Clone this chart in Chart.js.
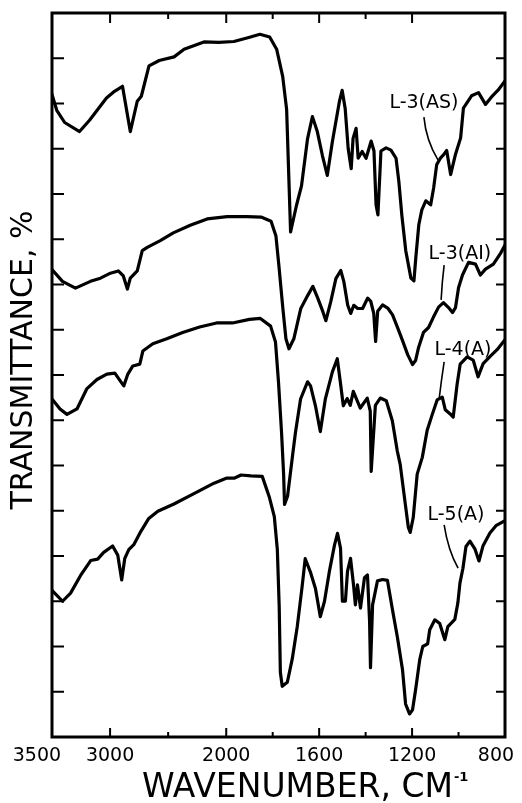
<!DOCTYPE html>
<html>
<head>
<meta charset="utf-8">
<script src="https://cdn.jsdelivr.net/npm/chart.js@4.4.1/dist/chart.umd.min.js"></script>
<style>
  html, body { margin: 0; padding: 0; background: #fff; }
  canvas { display: block; }
</style>
</head>
<body>
<canvas id="irChart" width="522" height="803"></canvas>
<script>
// Wavenumber ticks on the bottom axis (scale changes at 2000 cm-1)
const tickWn = [3500, 3000, 2500, 2000, 1800, 1600, 1400, 1200, 1000, 800];
const tickLabels = ['3500', '3000', '', '2000', '', '1600', '', '1200', '', '800'];

// L-3(AS)
const wnAS = [3500,3459,3391,3263,3177,3031,2962,2893,2826,2766,2731,2665,2577,2449,2363,2192,2064,1967,1903,1855,
  1813,1783,1757,1740,1732,1723,1698,1676,1650,1629,1608,1586,1565,1543,1513,1501,1488,1475,1462,1454,
  1441,1432,1415,1398,1376,1364,1355,1347,1334,1312,1291,1269,1257,1244,1227,1205,1192,1184,1171,1158,
  1141,1120,1107,1094,1077,1064,1051,1034,1013,991,979,944,914,884,859,829,800];
const tAS = [14.2,13.85,13.58,13.38,13.63,14.12,14.27,14.38,13.38,14.05,14.16,14.83,14.95,15.03,15.2,15.36,15.35,15.37,15.46,15.53,
  15.47,15.2,14.6,13.87,12.6,11.16,11.74,12.18,13.22,13.71,13.38,12.85,12.41,13.16,14.04,14.29,13.89,13.0,12.56,13.23,
  13.45,12.79,12.94,12.79,13.17,12.95,11.76,11.54,12.95,13.02,12.97,12.79,12.28,11.53,10.74,10.14,10.08,10.59,11.32,11.65,
  11.85,11.76,12.14,12.65,12.8,12.87,12.96,12.43,12.88,13.24,13.9,14.17,14.24,13.98,14.14,14.3,14.5];

// L-3(AI)
const wnAI = [3500,3410,3298,3169,3083,2997,2929,2886,2851,2826,2766,2723,2680,2568,2456,2310,2164,1996,1910,1850,
  1807,1786,1773,1756,1743,1730,1709,1679,1649,1627,1606,1584,1571,1550,1528,1507,1494,1477,1464,1451,
  1434,1413,1391,1378,1365,1357,1348,1327,1305,1284,1262,1241,1219,1198,1185,1172,1151,1129,1108,1086,
  1065,1043,1026,1013,1000,983,957,927,906,884,850,820,800];
const tAI = [10.33,10.07,9.92,10.07,10.14,10.25,10.3,10.19,9.9,10.14,10.3,10.75,10.82,10.97,11.14,11.31,11.45,11.5,11.5,11.49,
  11.4,11.07,10.4,9.46,8.8,8.58,8.8,9.47,9.76,9.96,9.7,9.4,9.2,9.62,10.13,10.31,10.07,9.54,9.36,9.54,
  9.47,9.47,9.7,9.63,9.36,8.74,9.41,9.55,9.48,9.33,9.04,8.76,8.45,8.23,8.32,8.61,8.94,9.05,9.28,9.5,
  9.6,9.49,9.38,9.49,9.93,10.21,10.49,10.45,10.21,10.34,10.45,10.68,10.87];

// L-4(A)
const wnL4 = [3500,3431,3371,3285,3199,3113,3028,2959,2899,2882,2847,2804,2744,2718,2632,2512,2375,2229,2083,1973,
  1900,1853,1809,1788,1775,1762,1753,1749,1736,1715,1702,1680,1650,1637,1616,1595,1573,1543,1522,1509,
  1496,1479,1466,1453,1423,1393,1380,1376,1367,1358,1337,1311,1285,1264,1251,1229,1216,1208,1195,1178,
  1156,1135,1113,1092,1070,1057,1036,1023,1006,993,963,937,916,894,864,834,800];
const tL4 = [7.47,7.25,7.13,7.25,7.7,7.9,8.02,8.04,7.82,7.76,8.02,8.2,8.24,8.53,8.69,8.8,8.94,9.06,9.15,9.15,
  9.23,9.25,9.08,8.73,7.84,6.74,5.81,5.14,5.32,6.2,6.73,7.47,7.85,7.76,7.32,6.75,7.48,8.07,8.36,7.85,
  7.32,7.48,7.33,7.64,7.27,7.49,7.2,5.87,6.6,7.33,7.49,7.43,6.99,6.33,6.02,5.14,4.63,4.52,4.85,5.81,
  6.18,6.78,7.13,7.45,7.51,7.23,7.14,7.07,7.8,8.24,8.4,8.33,7.96,8.25,8.41,8.56,8.78];

// L-5(A)
const wnL5 = [3500,3409,3340,3254,3167,3107,3055,2978,2934,2900,2874,2839,2796,2736,2667,2589,2450,2278,2105,2000,
  1966,1936,1893,1845,1815,1793,1780,1772,1767,1759,1737,1716,1694,1673,1660,1638,1616,1595,1577,1556,
  1534,1521,1508,1500,1487,1478,1465,1452,1444,1435,1422,1405,1392,1383,1379,1370,1349,1327,1306,1284,
  1263,1241,1228,1211,1198,1185,1167,1154,1133,1124,1102,1081,1059,1046,1016,1003,994,981,968,951,
  929,912,895,865,839,800];
const tL5 = [3.24,3.0,3.18,3.57,3.9,3.93,4.08,4.22,4.02,3.47,3.94,4.14,4.25,4.54,4.83,4.99,5.15,5.38,5.61,5.72,
  5.72,5.79,5.77,5.76,5.31,4.87,4.14,2.89,1.43,1.12,1.21,1.72,2.45,3.34,3.94,3.65,3.28,2.66,3.0,3.66,
  4.24,4.5,4.17,3.0,3.0,3.66,3.95,3.36,2.92,3.36,2.85,3.52,3.58,2.57,1.53,2.92,3.45,3.48,3.46,2.8,
  2.2,1.48,0.73,0.51,0.6,1.04,1.71,2.0,2.06,2.37,2.59,2.51,2.15,2.44,2.6,2.96,3.4,3.73,4.21,4.33,
  4.15,3.89,4.22,4.51,4.67,4.78];

// curve labels and their leader lines (wavenumber, transmittance)
const labelText = ['L-3(AS)', 'L-3(AI)', 'L-4(A)', 'L-5(A)'];
const labelWn = [1149, 994, 981, 1011];
const labelT = [14.01, 10.67, 8.55, 4.91];
const leaderWn = [[1149, 1140, 1088], [1062, 1071, 1075], [1062, 1075, 1084], [1062, 1045, 1002]];
const leaderT = [[13.7, 13.19, 12.75], [10.43, 10.06, 9.66], [8.29, 7.85, 7.45], [4.69, 4.13, 3.73]];

// position along the axis: above 2000 cm-1 the scale is compressed by half
function pos(wn) {
  return wn >= 2000 ? (3500 - wn) / 2 : 750 + (2000 - wn);
}

function makeSet(wn, t) {
  return {
    data: wn.map((w, i) => ({ x: pos(w), y: t[i] })),
    borderColor: '#000',
    borderWidth: 3.2,
    pointRadius: 0,
    tension: 0,
    borderJoinStyle: 'round',
    borderCapStyle: 'round'
  };
}

const framePlugin = {
  id: 'frame',
  afterDraw(chart) {
    const { ctx, chartArea: a, scales: { x, y } } = chart;
    ctx.save();
    ctx.strokeStyle = '#000';
    ctx.fillStyle = '#000';
    ctx.lineWidth = 3;
    ctx.strokeRect(a.left, a.top, a.right - a.left, a.bottom - a.top);

    ctx.lineWidth = 2;
    ctx.beginPath();
    for (let v = 1; v < 16; v++) {
      const py = y.getPixelForValue(v);
      ctx.moveTo(a.left, py); ctx.lineTo(a.left + 12, py);
      ctx.moveTo(a.right, py); ctx.lineTo(a.right - 9, py);
    }
    tickWn.forEach((w, i) => {
      if (i === 0 || i === tickWn.length - 1) return;
      const px = x.getPixelForValue(pos(w));
      const len = tickLabels[i] ? 9 : 5;
      ctx.moveTo(px, a.bottom); ctx.lineTo(px, a.bottom - len);
      if (w > 1000) { ctx.moveTo(px, a.top); ctx.lineTo(px, a.top + len + 1); }
    });
    ctx.stroke();

    // leader lines
    ctx.lineWidth = 1.6;
    leaderWn.forEach((ws, i) => {
      const p = ws.map((w, j) => [x.getPixelForValue(pos(w)), y.getPixelForValue(leaderT[i][j])]);
      ctx.beginPath();
      ctx.moveTo(p[0][0], p[0][1]);
      ctx.quadraticCurveTo(p[1][0], p[1][1], p[2][0], p[2][1]);
      ctx.stroke();
    });

    // curve labels
    ctx.font = '19px "DejaVu Sans"';
    ctx.textAlign = 'center';
    ctx.textBaseline = 'middle';
    labelText.forEach((s, i) => {
      ctx.fillText(s, x.getPixelForValue(pos(labelWn[i])), y.getPixelForValue(labelT[i]));
    });

    // axis titles
    ctx.font = '33px "DejaVu Sans"';
    ctx.textAlign = 'left';
    ctx.textBaseline = 'alphabetic';
    const xt = 'WAVENUMBER, CM';
    ctx.fillText(xt, 142, 797);
    const xw = ctx.measureText(xt).width;
    ctx.font = 'bold 13px "DejaVu Sans"';
    ctx.fillText('-1', 142 + xw + 1, 781);

    ctx.translate(24, 360);
    ctx.rotate(-Math.PI / 2);
    ctx.font = '30px "DejaVu Sans"';
    ctx.textAlign = 'center';
    ctx.textBaseline = 'middle';
    ctx.fillText('TRANSMITTANCE, %', 0, 0);
    ctx.restore();
  }
};

Chart.defaults.font.family = '"DejaVu Sans"';
Chart.defaults.color = '#000';

new Chart(document.getElementById('irChart'), {
  type: 'line',
  data: {
    datasets: [makeSet(wnAS, tAS), makeSet(wnAI, tAI), makeSet(wnL4, tL4), makeSet(wnL5, tL5)]
  },
  options: {
    responsive: false,
    animation: false,
    devicePixelRatio: 1,
    layout: { padding: { top: 13, right: 17, left: 0, bottom: 0 } },
    plugins: { legend: { display: false }, tooltip: { enabled: false } },
    scales: {
      x: {
        type: 'linear',
        min: 0,
        max: 1950,
        grid: { display: false },
        border: { display: false },
        afterFit: s => { s.height = 66; s.paddingLeft = 0; s.paddingRight = 0; },
        afterBuildTicks: s => { s.ticks = tickWn.map(w => ({ value: pos(w) })); },
        ticks: {
          autoSkip: false,
          maxRotation: 0,
          padding: 0,
          font: { size: 19 },
          callback: (v, i) => {
            // nudge the two end labels inward like the original print
            if (i === 0) return tickLabels[i] + '     ';
            if (i === tickWn.length - 1) return tickLabels[i] + '   ';
            return tickLabels[i];
          }
        }
      },
      y: {
        min: 0,
        max: 16,
        grid: { display: false },
        border: { display: false },
        ticks: { display: false },
        afterFit: s => { s.width = 52; }
      }
    }
  },
  plugins: [framePlugin]
});
</script>
</body>
</html>
